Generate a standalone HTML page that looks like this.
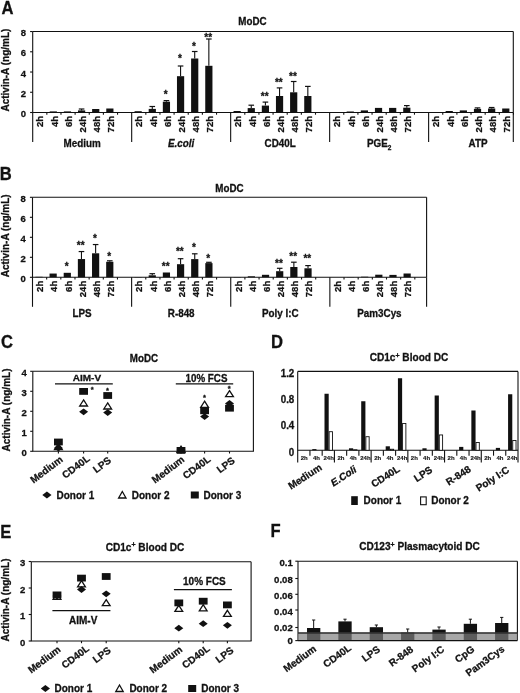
<!DOCTYPE html><html><head><meta charset="utf-8"><style>html,body{margin:0;padding:0;background:#fff;width:520px;height:693px;overflow:hidden}svg{display:block;filter:blur(0.35px)}</style></head><body><svg width="520" height="693" viewBox="0 0 520 693" font-family='"Liberation Sans", sans-serif' font-weight="bold" fill="#111">
<style>text{stroke:#111;stroke-width:0.28px;paint-order:stroke}</style>
<rect width="520" height="693" fill="#fff"/>
<text x="0" y="0" font-size="16.6" text-anchor="start" transform="translate(1.6 13.6) scale(1 1.05)">A</text>
<line x1="32.7" y1="31.5" x2="513.3" y2="31.5" stroke="#111" stroke-width="1.1"/>
<line x1="513.3" y1="31.5" x2="513.3" y2="112.5" stroke="#111" stroke-width="1.1"/>
<line x1="32.7" y1="31.5" x2="32.7" y2="142" stroke="#111" stroke-width="1.1"/>
<line x1="32.7" y1="112.5" x2="513.3" y2="112.5" stroke="#111" stroke-width="1.1"/>
<line x1="30.1" y1="112.5" x2="32.7" y2="112.5" stroke="#111" stroke-width="1.1"/>
<text x="26.1" y="117.05" font-size="9.5" text-anchor="end">0</text>
<line x1="30.1" y1="92.26" x2="32.7" y2="92.26" stroke="#111" stroke-width="1.1"/>
<text x="26.1" y="96.81" font-size="9.5" text-anchor="end">2</text>
<line x1="30.1" y1="72.02" x2="32.7" y2="72.02" stroke="#111" stroke-width="1.1"/>
<text x="26.1" y="76.57" font-size="9.5" text-anchor="end">4</text>
<line x1="30.1" y1="51.78" x2="32.7" y2="51.78" stroke="#111" stroke-width="1.1"/>
<text x="26.1" y="56.33" font-size="9.5" text-anchor="end">6</text>
<line x1="30.1" y1="31.54" x2="32.7" y2="31.54" stroke="#111" stroke-width="1.1"/>
<text x="26.1" y="36.09" font-size="9.5" text-anchor="end">8</text>
<line x1="46.84" y1="112.5" x2="46.84" y2="114.7" stroke="#111" stroke-width="1.1"/>
<line x1="60.98" y1="112.5" x2="60.98" y2="114.7" stroke="#111" stroke-width="1.1"/>
<line x1="75.12" y1="112.5" x2="75.12" y2="114.7" stroke="#111" stroke-width="1.1"/>
<line x1="89.26" y1="112.5" x2="89.26" y2="114.7" stroke="#111" stroke-width="1.1"/>
<line x1="103.4" y1="112.5" x2="103.4" y2="114.7" stroke="#111" stroke-width="1.1"/>
<line x1="117.54" y1="112.5" x2="117.54" y2="114.7" stroke="#111" stroke-width="1.1"/>
<line x1="131.68" y1="112.5" x2="131.68" y2="142" stroke="#111" stroke-width="1.1"/>
<line x1="145.82" y1="112.5" x2="145.82" y2="114.7" stroke="#111" stroke-width="1.1"/>
<line x1="159.96" y1="112.5" x2="159.96" y2="114.7" stroke="#111" stroke-width="1.1"/>
<line x1="174.1" y1="112.5" x2="174.1" y2="114.7" stroke="#111" stroke-width="1.1"/>
<line x1="188.24" y1="112.5" x2="188.24" y2="114.7" stroke="#111" stroke-width="1.1"/>
<line x1="202.38" y1="112.5" x2="202.38" y2="114.7" stroke="#111" stroke-width="1.1"/>
<line x1="216.52" y1="112.5" x2="216.52" y2="114.7" stroke="#111" stroke-width="1.1"/>
<line x1="230.66" y1="112.5" x2="230.66" y2="142" stroke="#111" stroke-width="1.1"/>
<line x1="244.8" y1="112.5" x2="244.8" y2="114.7" stroke="#111" stroke-width="1.1"/>
<line x1="258.94" y1="112.5" x2="258.94" y2="114.7" stroke="#111" stroke-width="1.1"/>
<line x1="273.08" y1="112.5" x2="273.08" y2="114.7" stroke="#111" stroke-width="1.1"/>
<line x1="287.22" y1="112.5" x2="287.22" y2="114.7" stroke="#111" stroke-width="1.1"/>
<line x1="301.36" y1="112.5" x2="301.36" y2="114.7" stroke="#111" stroke-width="1.1"/>
<line x1="315.5" y1="112.5" x2="315.5" y2="114.7" stroke="#111" stroke-width="1.1"/>
<line x1="329.64" y1="112.5" x2="329.64" y2="142" stroke="#111" stroke-width="1.1"/>
<line x1="343.78" y1="112.5" x2="343.78" y2="114.7" stroke="#111" stroke-width="1.1"/>
<line x1="357.92" y1="112.5" x2="357.92" y2="114.7" stroke="#111" stroke-width="1.1"/>
<line x1="372.06" y1="112.5" x2="372.06" y2="114.7" stroke="#111" stroke-width="1.1"/>
<line x1="386.2" y1="112.5" x2="386.2" y2="114.7" stroke="#111" stroke-width="1.1"/>
<line x1="400.34" y1="112.5" x2="400.34" y2="114.7" stroke="#111" stroke-width="1.1"/>
<line x1="414.48" y1="112.5" x2="414.48" y2="114.7" stroke="#111" stroke-width="1.1"/>
<line x1="428.62" y1="112.5" x2="428.62" y2="142" stroke="#111" stroke-width="1.1"/>
<line x1="442.76" y1="112.5" x2="442.76" y2="114.7" stroke="#111" stroke-width="1.1"/>
<line x1="456.9" y1="112.5" x2="456.9" y2="114.7" stroke="#111" stroke-width="1.1"/>
<line x1="471.04" y1="112.5" x2="471.04" y2="114.7" stroke="#111" stroke-width="1.1"/>
<line x1="485.18" y1="112.5" x2="485.18" y2="114.7" stroke="#111" stroke-width="1.1"/>
<line x1="499.32" y1="112.5" x2="499.32" y2="114.7" stroke="#111" stroke-width="1.1"/>
<line x1="513.46" y1="112.5" x2="513.46" y2="114.7" stroke="#111" stroke-width="1.1"/>
<line x1="513.3" y1="112.5" x2="513.3" y2="142" stroke="#111" stroke-width="1.1"/>
<rect x="35.57" y="112.2" width="7.2" height="0.3" fill="#111"/>
<rect x="49.71" y="111.4" width="7.2" height="1.1" fill="#111"/>
<rect x="63.85" y="111.4" width="7.2" height="1.1" fill="#111"/>
<rect x="77.99" y="110.4" width="7.2" height="2.1" fill="#111"/>
<line x1="81.59" y1="110.4" x2="81.59" y2="109" stroke="#111" stroke-width="1.1"/>
<line x1="78.79" y1="109" x2="84.39" y2="109" stroke="#111" stroke-width="1.2"/>
<rect x="92.13" y="109" width="7.2" height="3.5" fill="#111"/>
<rect x="106.27" y="108.5" width="7.2" height="4" fill="#111"/>
<text x="43.47" y="116" font-size="9.5" text-anchor="end" transform="rotate(-90 43.47 116)">2h</text>
<text x="57.61" y="116" font-size="9.5" text-anchor="end" transform="rotate(-90 57.61 116)">4h</text>
<text x="71.75" y="116" font-size="9.5" text-anchor="end" transform="rotate(-90 71.75 116)">6h</text>
<text x="85.89" y="116" font-size="9.5" text-anchor="end" transform="rotate(-90 85.89 116)">24h</text>
<text x="100.03" y="116" font-size="9.5" text-anchor="end" transform="rotate(-90 100.03 116)">48h</text>
<text x="114.17" y="116" font-size="9.5" text-anchor="end" transform="rotate(-90 114.17 116)">72h</text>
<rect x="134.55" y="111.2" width="7.2" height="1.3" fill="#111"/>
<rect x="148.69" y="108.9" width="7.2" height="3.6" fill="#111"/>
<line x1="152.29" y1="108.9" x2="152.29" y2="106.5" stroke="#111" stroke-width="1.1"/>
<line x1="149.49" y1="106.5" x2="155.09" y2="106.5" stroke="#111" stroke-width="1.2"/>
<rect x="162.83" y="101.7" width="7.2" height="10.8" fill="#111"/>
<line x1="166.43" y1="101.7" x2="166.43" y2="100.6" stroke="#111" stroke-width="1.1"/>
<line x1="163.63" y1="100.6" x2="169.23" y2="100.6" stroke="#111" stroke-width="1.2"/>
<text x="165.73" y="97.94" font-size="10" text-anchor="middle">*</text>
<rect x="176.97" y="76.2" width="7.2" height="36.3" fill="#111"/>
<line x1="180.57" y1="76.2" x2="180.57" y2="66" stroke="#111" stroke-width="1.1"/>
<line x1="177.77" y1="66" x2="183.37" y2="66" stroke="#111" stroke-width="1.2"/>
<text x="179.87" y="62.44" font-size="10" text-anchor="middle">*</text>
<rect x="191.11" y="58.5" width="7.2" height="54" fill="#111"/>
<line x1="194.71" y1="58.5" x2="194.71" y2="51.5" stroke="#111" stroke-width="1.1"/>
<line x1="191.91" y1="51.5" x2="197.51" y2="51.5" stroke="#111" stroke-width="1.2"/>
<text x="194.01" y="49.94" font-size="10" text-anchor="middle">*</text>
<rect x="205.25" y="65.8" width="7.2" height="46.7" fill="#111"/>
<line x1="208.85" y1="65.8" x2="208.85" y2="39" stroke="#111" stroke-width="1.1"/>
<line x1="206.05" y1="39" x2="211.65" y2="39" stroke="#111" stroke-width="1.2"/>
<text x="208.15" y="40.84" font-size="10" text-anchor="middle">**</text>
<text x="142.45" y="116" font-size="9.5" text-anchor="end" transform="rotate(-90 142.45 116)">2h</text>
<text x="156.59" y="116" font-size="9.5" text-anchor="end" transform="rotate(-90 156.59 116)">4h</text>
<text x="170.73" y="116" font-size="9.5" text-anchor="end" transform="rotate(-90 170.73 116)">6h</text>
<text x="184.87" y="116" font-size="9.5" text-anchor="end" transform="rotate(-90 184.87 116)">24h</text>
<text x="199.01" y="116" font-size="9.5" text-anchor="end" transform="rotate(-90 199.01 116)">48h</text>
<text x="213.15" y="116" font-size="9.5" text-anchor="end" transform="rotate(-90 213.15 116)">72h</text>
<rect x="233.53" y="111" width="7.2" height="1.5" fill="#111"/>
<rect x="247.67" y="108.1" width="7.2" height="4.4" fill="#111"/>
<line x1="251.27" y1="108.1" x2="251.27" y2="105.2" stroke="#111" stroke-width="1.1"/>
<line x1="248.47" y1="105.2" x2="254.07" y2="105.2" stroke="#111" stroke-width="1.2"/>
<rect x="261.81" y="105.6" width="7.2" height="6.9" fill="#111"/>
<line x1="265.41" y1="105.6" x2="265.41" y2="102.1" stroke="#111" stroke-width="1.1"/>
<line x1="262.61" y1="102.1" x2="268.21" y2="102.1" stroke="#111" stroke-width="1.2"/>
<text x="264.71" y="99.64" font-size="10" text-anchor="middle">**</text>
<rect x="275.95" y="96" width="7.2" height="16.5" fill="#111"/>
<line x1="279.55" y1="96" x2="279.55" y2="87.9" stroke="#111" stroke-width="1.1"/>
<line x1="276.75" y1="87.9" x2="282.35" y2="87.9" stroke="#111" stroke-width="1.2"/>
<text x="278.85" y="86.04" font-size="10" text-anchor="middle">**</text>
<rect x="290.09" y="92.3" width="7.2" height="20.2" fill="#111"/>
<line x1="293.69" y1="92.3" x2="293.69" y2="81.5" stroke="#111" stroke-width="1.1"/>
<line x1="290.89" y1="81.5" x2="296.49" y2="81.5" stroke="#111" stroke-width="1.2"/>
<text x="292.99" y="79.94" font-size="10" text-anchor="middle">**</text>
<rect x="304.23" y="96" width="7.2" height="16.5" fill="#111"/>
<line x1="307.83" y1="96" x2="307.83" y2="86.4" stroke="#111" stroke-width="1.1"/>
<line x1="305.03" y1="86.4" x2="310.63" y2="86.4" stroke="#111" stroke-width="1.2"/>
<text x="241.43" y="116" font-size="9.5" text-anchor="end" transform="rotate(-90 241.43 116)">2h</text>
<text x="255.57" y="116" font-size="9.5" text-anchor="end" transform="rotate(-90 255.57 116)">4h</text>
<text x="269.71" y="116" font-size="9.5" text-anchor="end" transform="rotate(-90 269.71 116)">6h</text>
<text x="283.85" y="116" font-size="9.5" text-anchor="end" transform="rotate(-90 283.85 116)">24h</text>
<text x="297.99" y="116" font-size="9.5" text-anchor="end" transform="rotate(-90 297.99 116)">48h</text>
<text x="312.13" y="116" font-size="9.5" text-anchor="end" transform="rotate(-90 312.13 116)">72h</text>
<rect x="332.51" y="112" width="7.2" height="0.5" fill="#111"/>
<rect x="346.65" y="111.5" width="7.2" height="1" fill="#111"/>
<rect x="360.79" y="110.4" width="7.2" height="2.1" fill="#111"/>
<rect x="374.93" y="107.9" width="7.2" height="4.6" fill="#111"/>
<rect x="389.07" y="107.9" width="7.2" height="4.6" fill="#111"/>
<rect x="403.21" y="107.7" width="7.2" height="4.8" fill="#111"/>
<line x1="406.81" y1="107.7" x2="406.81" y2="105.6" stroke="#111" stroke-width="1.1"/>
<line x1="404.01" y1="105.6" x2="409.61" y2="105.6" stroke="#111" stroke-width="1.2"/>
<text x="340.41" y="116" font-size="9.5" text-anchor="end" transform="rotate(-90 340.41 116)">2h</text>
<text x="354.55" y="116" font-size="9.5" text-anchor="end" transform="rotate(-90 354.55 116)">4h</text>
<text x="368.69" y="116" font-size="9.5" text-anchor="end" transform="rotate(-90 368.69 116)">6h</text>
<text x="382.83" y="116" font-size="9.5" text-anchor="end" transform="rotate(-90 382.83 116)">24h</text>
<text x="396.97" y="116" font-size="9.5" text-anchor="end" transform="rotate(-90 396.97 116)">48h</text>
<text x="411.11" y="116" font-size="9.5" text-anchor="end" transform="rotate(-90 411.11 116)">72h</text>
<rect x="431.49" y="112" width="7.2" height="0.5" fill="#111"/>
<rect x="445.63" y="111" width="7.2" height="1.5" fill="#111"/>
<rect x="459.77" y="110.4" width="7.2" height="2.1" fill="#111"/>
<rect x="473.91" y="108.9" width="7.2" height="3.6" fill="#111"/>
<line x1="477.51" y1="108.9" x2="477.51" y2="107.9" stroke="#111" stroke-width="1.1"/>
<line x1="474.71" y1="107.9" x2="480.31" y2="107.9" stroke="#111" stroke-width="1.2"/>
<rect x="488.05" y="108.5" width="7.2" height="4" fill="#111"/>
<line x1="491.65" y1="108.5" x2="491.65" y2="107.5" stroke="#111" stroke-width="1.1"/>
<line x1="488.85" y1="107.5" x2="494.45" y2="107.5" stroke="#111" stroke-width="1.2"/>
<rect x="502.19" y="108.5" width="7.2" height="4" fill="#111"/>
<text x="439.39" y="116" font-size="9.5" text-anchor="end" transform="rotate(-90 439.39 116)">2h</text>
<text x="453.53" y="116" font-size="9.5" text-anchor="end" transform="rotate(-90 453.53 116)">4h</text>
<text x="467.67" y="116" font-size="9.5" text-anchor="end" transform="rotate(-90 467.67 116)">6h</text>
<text x="481.81" y="116" font-size="9.5" text-anchor="end" transform="rotate(-90 481.81 116)">24h</text>
<text x="495.95" y="116" font-size="9.5" text-anchor="end" transform="rotate(-90 495.95 116)">48h</text>
<text x="510.09" y="116" font-size="9.5" text-anchor="end" transform="rotate(-90 510.09 116)">72h</text>
<text x="0" y="0" font-size="9.85" text-anchor="middle" transform="translate(82.19 147.4) scale(1 1.08)">Medium</text>
<text x="0" y="0" font-size="9.85" text-anchor="middle" font-style="italic" transform="translate(181.17 147.4) scale(1 1.08)"><tspan font-style="italic">E.coli</tspan></text>
<text x="0" y="0" font-size="9.85" text-anchor="middle" transform="translate(280.15 147.4) scale(1 1.08)">CD40L</text>
<text x="0" y="0" font-size="9.85" text-anchor="middle" transform="translate(379.13 147.4) scale(1 1.08)">PGE<tspan font-size="6.5" dy="2.5">2</tspan></text>
<text x="0" y="0" font-size="9.85" text-anchor="middle" transform="translate(478.11 147.4) scale(1 1.08)">ATP</text>
<text x="0" y="0" font-size="9.8" text-anchor="middle" transform="translate(252.4 24.8) scale(1 1.08)">MoDC</text>
<text x="9.3" y="70.1" font-size="10" text-anchor="middle" transform="rotate(-90 9.3 70.1)">Activin-A (ng/mL)</text>
<text x="0" y="0" font-size="16.6" text-anchor="start" transform="translate(-0.2 179.5) scale(1 1.05)">B</text>
<line x1="32.5" y1="197.3" x2="426.6" y2="197.3" stroke="#111" stroke-width="1.1"/>
<line x1="426.6" y1="197.3" x2="426.6" y2="277.3" stroke="#111" stroke-width="1.1"/>
<line x1="32.5" y1="197.3" x2="32.5" y2="306.8" stroke="#111" stroke-width="1.1"/>
<line x1="32.5" y1="277.3" x2="426.6" y2="277.3" stroke="#111" stroke-width="1.1"/>
<line x1="29.9" y1="277.3" x2="32.5" y2="277.3" stroke="#111" stroke-width="1.1"/>
<text x="25.9" y="281.85" font-size="9.5" text-anchor="end">0</text>
<line x1="29.9" y1="257.3" x2="32.5" y2="257.3" stroke="#111" stroke-width="1.1"/>
<text x="25.9" y="261.85" font-size="9.5" text-anchor="end">2</text>
<line x1="29.9" y1="237.3" x2="32.5" y2="237.3" stroke="#111" stroke-width="1.1"/>
<text x="25.9" y="241.85" font-size="9.5" text-anchor="end">4</text>
<line x1="29.9" y1="217.3" x2="32.5" y2="217.3" stroke="#111" stroke-width="1.1"/>
<text x="25.9" y="221.85" font-size="9.5" text-anchor="end">6</text>
<line x1="29.9" y1="197.3" x2="32.5" y2="197.3" stroke="#111" stroke-width="1.1"/>
<text x="25.9" y="201.85" font-size="9.5" text-anchor="end">8</text>
<line x1="46.66" y1="277.3" x2="46.66" y2="279.5" stroke="#111" stroke-width="1.1"/>
<line x1="60.82" y1="277.3" x2="60.82" y2="279.5" stroke="#111" stroke-width="1.1"/>
<line x1="74.98" y1="277.3" x2="74.98" y2="279.5" stroke="#111" stroke-width="1.1"/>
<line x1="89.14" y1="277.3" x2="89.14" y2="279.5" stroke="#111" stroke-width="1.1"/>
<line x1="103.3" y1="277.3" x2="103.3" y2="279.5" stroke="#111" stroke-width="1.1"/>
<line x1="117.46" y1="277.3" x2="117.46" y2="279.5" stroke="#111" stroke-width="1.1"/>
<line x1="131.62" y1="277.3" x2="131.62" y2="306.8" stroke="#111" stroke-width="1.1"/>
<line x1="145.78" y1="277.3" x2="145.78" y2="279.5" stroke="#111" stroke-width="1.1"/>
<line x1="159.94" y1="277.3" x2="159.94" y2="279.5" stroke="#111" stroke-width="1.1"/>
<line x1="174.1" y1="277.3" x2="174.1" y2="279.5" stroke="#111" stroke-width="1.1"/>
<line x1="188.26" y1="277.3" x2="188.26" y2="279.5" stroke="#111" stroke-width="1.1"/>
<line x1="202.42" y1="277.3" x2="202.42" y2="279.5" stroke="#111" stroke-width="1.1"/>
<line x1="216.58" y1="277.3" x2="216.58" y2="279.5" stroke="#111" stroke-width="1.1"/>
<line x1="230.74" y1="277.3" x2="230.74" y2="306.8" stroke="#111" stroke-width="1.1"/>
<line x1="244.9" y1="277.3" x2="244.9" y2="279.5" stroke="#111" stroke-width="1.1"/>
<line x1="259.06" y1="277.3" x2="259.06" y2="279.5" stroke="#111" stroke-width="1.1"/>
<line x1="273.22" y1="277.3" x2="273.22" y2="279.5" stroke="#111" stroke-width="1.1"/>
<line x1="287.38" y1="277.3" x2="287.38" y2="279.5" stroke="#111" stroke-width="1.1"/>
<line x1="301.54" y1="277.3" x2="301.54" y2="279.5" stroke="#111" stroke-width="1.1"/>
<line x1="315.7" y1="277.3" x2="315.7" y2="279.5" stroke="#111" stroke-width="1.1"/>
<line x1="329.86" y1="277.3" x2="329.86" y2="306.8" stroke="#111" stroke-width="1.1"/>
<line x1="344.02" y1="277.3" x2="344.02" y2="279.5" stroke="#111" stroke-width="1.1"/>
<line x1="358.18" y1="277.3" x2="358.18" y2="279.5" stroke="#111" stroke-width="1.1"/>
<line x1="372.34" y1="277.3" x2="372.34" y2="279.5" stroke="#111" stroke-width="1.1"/>
<line x1="386.5" y1="277.3" x2="386.5" y2="279.5" stroke="#111" stroke-width="1.1"/>
<line x1="400.66" y1="277.3" x2="400.66" y2="279.5" stroke="#111" stroke-width="1.1"/>
<line x1="414.82" y1="277.3" x2="414.82" y2="279.5" stroke="#111" stroke-width="1.1"/>
<line x1="426.6" y1="277.3" x2="426.6" y2="306.8" stroke="#111" stroke-width="1.1"/>
<rect x="35.38" y="276.8" width="7.2" height="0.5" fill="#111"/>
<rect x="49.54" y="273.55" width="7.2" height="3.75" fill="#111"/>
<rect x="63.7" y="272.8" width="7.2" height="4.5" fill="#111"/>
<text x="66.6" y="269.89" font-size="10" text-anchor="middle">*</text>
<rect x="77.86" y="259.05" width="7.2" height="18.25" fill="#111"/>
<line x1="81.46" y1="259.05" x2="81.46" y2="251.55" stroke="#111" stroke-width="1.1"/>
<line x1="78.66" y1="251.55" x2="84.26" y2="251.55" stroke="#111" stroke-width="1.2"/>
<text x="80.76" y="249.14" font-size="10" text-anchor="middle">**</text>
<rect x="92.02" y="253.3" width="7.2" height="24" fill="#111"/>
<line x1="95.62" y1="253.3" x2="95.62" y2="244.55" stroke="#111" stroke-width="1.1"/>
<line x1="92.82" y1="244.55" x2="98.42" y2="244.55" stroke="#111" stroke-width="1.2"/>
<text x="94.92" y="242.14" font-size="10" text-anchor="middle">*</text>
<rect x="106.18" y="261.8" width="7.2" height="15.5" fill="#111"/>
<line x1="109.78" y1="261.8" x2="109.78" y2="260.8" stroke="#111" stroke-width="1.1"/>
<line x1="106.98" y1="260.8" x2="112.58" y2="260.8" stroke="#111" stroke-width="1.2"/>
<text x="109.08" y="259.64" font-size="10" text-anchor="middle">*</text>
<text x="43.28" y="280.8" font-size="9.5" text-anchor="end" transform="rotate(-90 43.28 280.8)">2h</text>
<text x="57.44" y="280.8" font-size="9.5" text-anchor="end" transform="rotate(-90 57.44 280.8)">4h</text>
<text x="71.6" y="280.8" font-size="9.5" text-anchor="end" transform="rotate(-90 71.6 280.8)">6h</text>
<text x="85.76" y="280.8" font-size="9.5" text-anchor="end" transform="rotate(-90 85.76 280.8)">24h</text>
<text x="99.92" y="280.8" font-size="9.5" text-anchor="end" transform="rotate(-90 99.92 280.8)">48h</text>
<text x="114.08" y="280.8" font-size="9.5" text-anchor="end" transform="rotate(-90 114.08 280.8)">72h</text>
<rect x="134.5" y="277" width="7.2" height="0.3" fill="#111"/>
<rect x="148.66" y="275.3" width="7.2" height="2" fill="#111"/>
<line x1="152.26" y1="275.3" x2="152.26" y2="273.7" stroke="#111" stroke-width="1.1"/>
<line x1="149.46" y1="273.7" x2="155.06" y2="273.7" stroke="#111" stroke-width="1.2"/>
<rect x="162.82" y="272.5" width="7.2" height="4.8" fill="#111"/>
<text x="165.72" y="270.14" font-size="10" text-anchor="middle">**</text>
<rect x="176.98" y="264.2" width="7.2" height="13.1" fill="#111"/>
<line x1="180.58" y1="264.2" x2="180.58" y2="258.7" stroke="#111" stroke-width="1.1"/>
<line x1="177.78" y1="258.7" x2="183.38" y2="258.7" stroke="#111" stroke-width="1.2"/>
<text x="179.88" y="255.14" font-size="10" text-anchor="middle">**</text>
<rect x="191.14" y="259.1" width="7.2" height="18.2" fill="#111"/>
<line x1="194.74" y1="259.1" x2="194.74" y2="253.8" stroke="#111" stroke-width="1.1"/>
<line x1="191.94" y1="253.8" x2="197.54" y2="253.8" stroke="#111" stroke-width="1.2"/>
<text x="194.04" y="251.14" font-size="10" text-anchor="middle">*</text>
<rect x="205.3" y="263.1" width="7.2" height="14.2" fill="#111"/>
<line x1="208.9" y1="263.1" x2="208.9" y2="262.3" stroke="#111" stroke-width="1.1"/>
<line x1="206.1" y1="262.3" x2="211.7" y2="262.3" stroke="#111" stroke-width="1.2"/>
<text x="208.2" y="262.04" font-size="10" text-anchor="middle">*</text>
<text x="142.4" y="280.8" font-size="9.5" text-anchor="end" transform="rotate(-90 142.4 280.8)">2h</text>
<text x="156.56" y="280.8" font-size="9.5" text-anchor="end" transform="rotate(-90 156.56 280.8)">4h</text>
<text x="170.72" y="280.8" font-size="9.5" text-anchor="end" transform="rotate(-90 170.72 280.8)">6h</text>
<text x="184.88" y="280.8" font-size="9.5" text-anchor="end" transform="rotate(-90 184.88 280.8)">24h</text>
<text x="199.04" y="280.8" font-size="9.5" text-anchor="end" transform="rotate(-90 199.04 280.8)">48h</text>
<text x="213.2" y="280.8" font-size="9.5" text-anchor="end" transform="rotate(-90 213.2 280.8)">72h</text>
<rect x="233.62" y="277" width="7.2" height="0.3" fill="#111"/>
<rect x="247.78" y="276.3" width="7.2" height="1" fill="#111"/>
<rect x="261.94" y="274.8" width="7.2" height="2.5" fill="#111"/>
<rect x="276.1" y="271.2" width="7.2" height="6.1" fill="#111"/>
<line x1="279.7" y1="271.2" x2="279.7" y2="268.3" stroke="#111" stroke-width="1.1"/>
<line x1="276.9" y1="268.3" x2="282.5" y2="268.3" stroke="#111" stroke-width="1.2"/>
<text x="279" y="266.64" font-size="10" text-anchor="middle">**</text>
<rect x="290.26" y="267" width="7.2" height="10.3" fill="#111"/>
<line x1="293.86" y1="267" x2="293.86" y2="262.2" stroke="#111" stroke-width="1.1"/>
<line x1="291.06" y1="262.2" x2="296.66" y2="262.2" stroke="#111" stroke-width="1.2"/>
<text x="293.16" y="259.64" font-size="10" text-anchor="middle">**</text>
<rect x="304.42" y="268.3" width="7.2" height="9" fill="#111"/>
<line x1="308.02" y1="268.3" x2="308.02" y2="265.6" stroke="#111" stroke-width="1.1"/>
<line x1="305.22" y1="265.6" x2="310.82" y2="265.6" stroke="#111" stroke-width="1.2"/>
<text x="307.32" y="262.04" font-size="10" text-anchor="middle">**</text>
<text x="241.52" y="280.8" font-size="9.5" text-anchor="end" transform="rotate(-90 241.52 280.8)">2h</text>
<text x="255.68" y="280.8" font-size="9.5" text-anchor="end" transform="rotate(-90 255.68 280.8)">4h</text>
<text x="269.84" y="280.8" font-size="9.5" text-anchor="end" transform="rotate(-90 269.84 280.8)">6h</text>
<text x="284" y="280.8" font-size="9.5" text-anchor="end" transform="rotate(-90 284 280.8)">24h</text>
<text x="298.16" y="280.8" font-size="9.5" text-anchor="end" transform="rotate(-90 298.16 280.8)">48h</text>
<text x="312.32" y="280.8" font-size="9.5" text-anchor="end" transform="rotate(-90 312.32 280.8)">72h</text>
<rect x="346.9" y="277.1" width="7.2" height="0.2" fill="#111"/>
<rect x="361.06" y="276.7" width="7.2" height="0.6" fill="#111"/>
<rect x="375.22" y="274.7" width="7.2" height="2.6" fill="#111"/>
<rect x="389.38" y="274.9" width="7.2" height="2.4" fill="#111"/>
<rect x="403.54" y="273.5" width="7.2" height="3.8" fill="#111"/>
<text x="340.64" y="280.8" font-size="9.5" text-anchor="end" transform="rotate(-90 340.64 280.8)">2h</text>
<text x="354.8" y="280.8" font-size="9.5" text-anchor="end" transform="rotate(-90 354.8 280.8)">4h</text>
<text x="368.96" y="280.8" font-size="9.5" text-anchor="end" transform="rotate(-90 368.96 280.8)">6h</text>
<text x="383.12" y="280.8" font-size="9.5" text-anchor="end" transform="rotate(-90 383.12 280.8)">24h</text>
<text x="397.28" y="280.8" font-size="9.5" text-anchor="end" transform="rotate(-90 397.28 280.8)">48h</text>
<text x="411.44" y="280.8" font-size="9.5" text-anchor="end" transform="rotate(-90 411.44 280.8)">72h</text>
<text x="0" y="0" font-size="9.85" text-anchor="middle" transform="translate(82.06 316.6) scale(1 1.08)">LPS</text>
<text x="0" y="0" font-size="9.85" text-anchor="middle" transform="translate(181.18 316.6) scale(1 1.08)">R-848</text>
<text x="0" y="0" font-size="9.85" text-anchor="middle" transform="translate(280.3 316.6) scale(1 1.08)">Poly I:C</text>
<text x="0" y="0" font-size="9.85" text-anchor="middle" transform="translate(379.42 316.6) scale(1 1.08)">Pam3Cys</text>
<text x="0" y="0" font-size="9.8" text-anchor="middle" transform="translate(229.4 192.1) scale(1 1.08)">MoDC</text>
<text x="9.1" y="235.8" font-size="10" text-anchor="middle" transform="rotate(-90 9.1 235.8)">Activin-A (ng/mL)</text>
<text x="0" y="0" font-size="16.6" text-anchor="start" transform="translate(0.9 347.8) scale(1 1.05)">C</text>
<line x1="32.8" y1="371.3" x2="253.4" y2="371.3" stroke="#111" stroke-width="1.1"/>
<line x1="253.4" y1="371.3" x2="253.4" y2="451.3" stroke="#111" stroke-width="1.1"/>
<line x1="32.8" y1="371.3" x2="32.8" y2="451.3" stroke="#111" stroke-width="1.1"/>
<line x1="32.3" y1="451.3" x2="253.9" y2="451.3" stroke="#111" stroke-width="1.1"/>
<line x1="30.2" y1="451.3" x2="32.8" y2="451.3" stroke="#111" stroke-width="1.1"/>
<text x="26.8" y="455.5" font-size="9.5" text-anchor="end">0</text>
<line x1="30.2" y1="431.3" x2="32.8" y2="431.3" stroke="#111" stroke-width="1.1"/>
<text x="26.8" y="435.5" font-size="9.5" text-anchor="end">1</text>
<line x1="30.2" y1="411.3" x2="32.8" y2="411.3" stroke="#111" stroke-width="1.1"/>
<text x="26.8" y="415.5" font-size="9.5" text-anchor="end">2</text>
<line x1="30.2" y1="391.3" x2="32.8" y2="391.3" stroke="#111" stroke-width="1.1"/>
<text x="26.8" y="395.5" font-size="9.5" text-anchor="end">3</text>
<line x1="30.2" y1="371.3" x2="32.8" y2="371.3" stroke="#111" stroke-width="1.1"/>
<text x="26.8" y="375.5" font-size="9.5" text-anchor="end">4</text>
<line x1="58.4" y1="451.3" x2="58.4" y2="453.5" stroke="#111" stroke-width="1.1"/>
<line x1="83.6" y1="451.3" x2="83.6" y2="453.5" stroke="#111" stroke-width="1.1"/>
<line x1="107.7" y1="451.3" x2="107.7" y2="453.5" stroke="#111" stroke-width="1.1"/>
<line x1="181" y1="451.3" x2="181" y2="453.5" stroke="#111" stroke-width="1.1"/>
<line x1="204.6" y1="451.3" x2="204.6" y2="453.5" stroke="#111" stroke-width="1.1"/>
<line x1="229.5" y1="451.3" x2="229.5" y2="453.5" stroke="#111" stroke-width="1.1"/>
<text x="63.6" y="460.92" font-size="10.0" text-anchor="end" transform="rotate(-37 63.6 460.92)" class="rl">Medium</text>
<text x="90.6" y="459.92" font-size="10.0" text-anchor="end" transform="rotate(-37 90.6 459.92)" class="rl">CD40L</text>
<text x="111.8" y="461.72" font-size="10.0" text-anchor="end" transform="rotate(-37 111.8 461.72)" class="rl">LPS</text>
<text x="185.2" y="460.92" font-size="10.0" text-anchor="end" transform="rotate(-37 185.2 460.92)" class="rl">Medium</text>
<text x="211.4" y="460.52" font-size="10.0" text-anchor="end" transform="rotate(-37 211.4 460.52)" class="rl">CD40L</text>
<text x="235.6" y="461.92" font-size="10.0" text-anchor="end" transform="rotate(-37 235.6 461.92)" class="rl">LPS</text>
<path d="M58.4 443.5L62.3 449.6L54.5 449.6Z" fill="#fff" stroke="#111" stroke-width="1.3" stroke-linejoin="miter"/>
<path d="M58.4 444.6L62.9 448L58.4 451.4L53.9 448Z" fill="#111"/>
<rect x="54" y="438.6" width="8.8" height="6.8" fill="#111"/>
<path d="M83.6 399.9L87.5 406L79.7 406Z" fill="#fff" stroke="#111" stroke-width="1.3" stroke-linejoin="miter"/>
<path d="M83.6 408.4L88.1 411.8L83.6 415.2L79.1 411.8Z" fill="#111"/>
<rect x="79.2" y="388" width="8.8" height="6.8" fill="#111"/>
<text x="92.2" y="392.46" font-size="7.6" text-anchor="middle">*</text>
<path d="M107.7 402.9L111.6 409L103.8 409Z" fill="#fff" stroke="#111" stroke-width="1.3" stroke-linejoin="miter"/>
<path d="M107.7 409.2L112.2 412.6L107.7 416L103.2 412.6Z" fill="#111"/>
<rect x="103.3" y="392.1" width="8.8" height="6.8" fill="#111"/>
<text x="107.5" y="392.76" font-size="7.6" text-anchor="middle">*</text>
<path d="M181 446.2L184.9 452.3L177.1 452.3Z" fill="#fff" stroke="#111" stroke-width="1.3" stroke-linejoin="miter"/>
<path d="M181 446.6L185.5 450L181 453.4L176.5 450Z" fill="#111"/>
<rect x="176.6" y="447" width="8.8" height="6.8" fill="#111"/>
<path d="M204.6 401.2L208.5 407.3L200.7 407.3Z" fill="#fff" stroke="#111" stroke-width="1.3" stroke-linejoin="miter"/>
<path d="M204.6 413.2L209.1 416.6L204.6 420L200.1 416.6Z" fill="#111"/>
<rect x="200.2" y="407.4" width="8.8" height="6.8" fill="#111"/>
<text x="204.4" y="399.66" font-size="7.6" text-anchor="middle">*</text>
<path d="M229.5 390.6L233.4 396.7L225.6 396.7Z" fill="#fff" stroke="#111" stroke-width="1.3" stroke-linejoin="miter"/>
<path d="M229.5 400.1L234 403.5L229.5 406.9L225 403.5Z" fill="#111"/>
<rect x="225.1" y="404.8" width="8.8" height="6.8" fill="#111"/>
<text x="229.3" y="391.26" font-size="7.6" text-anchor="middle">*</text>
<line x1="55" y1="383.8" x2="112.8" y2="383.8" stroke="#111" stroke-width="1.3"/>
<text x="0" y="0" font-size="9.2" text-anchor="middle" transform="translate(86.9 381.4) scale(1 1.08)" textLength="28.3" lengthAdjust="spacingAndGlyphs">AIM-V</text>
<line x1="175.8" y1="383.8" x2="233.2" y2="383.8" stroke="#111" stroke-width="1.3"/>
<text x="0" y="0" font-size="9.8" text-anchor="middle" transform="translate(206.5 381.6) scale(1 1.08)">10% FCS</text>
<text x="0" y="0" font-size="9.8" text-anchor="middle" transform="translate(144 361.5) scale(1 1.08)">MoDC</text>
<text x="10.1" y="410" font-size="10" text-anchor="middle" transform="rotate(-90 10.1 410)">Activin-A (ng/mL)</text>
<path d="M46.9 491.4L51.5 495L46.9 498.6L42.3 495Z" fill="#111"/>
<text x="0" y="0" font-size="10" text-anchor="start" transform="translate(56.5 498.6) scale(1 1.08)">Donor 1</text>
<path d="M122.3 491.5L126 498L118.6 498Z" fill="#fff" stroke="#111" stroke-width="1.3" stroke-linejoin="miter"/>
<text x="0" y="0" font-size="10" text-anchor="start" transform="translate(131.8 498.6) scale(1 1.08)">Donor 2</text>
<rect x="190.8" y="491.5" width="8" height="7" fill="#111"/>
<text x="0" y="0" font-size="10" text-anchor="start" transform="translate(203.5 498.6) scale(1 1.08)">Donor 3</text>
<text x="0" y="0" font-size="16.6" text-anchor="start" transform="translate(0.2 537.5) scale(1 1.05)">E</text>
<line x1="31.3" y1="561.8" x2="251.1" y2="561.8" stroke="#111" stroke-width="1.1"/>
<line x1="251.1" y1="561.8" x2="251.1" y2="641" stroke="#111" stroke-width="1.1"/>
<line x1="31.3" y1="561.8" x2="31.3" y2="641" stroke="#111" stroke-width="1.1"/>
<line x1="30.8" y1="641" x2="251.6" y2="641" stroke="#111" stroke-width="1.1"/>
<line x1="28.7" y1="641" x2="31.3" y2="641" stroke="#111" stroke-width="1.1"/>
<text x="25.3" y="645.7" font-size="9.5" text-anchor="end">0</text>
<line x1="28.7" y1="614.5" x2="31.3" y2="614.5" stroke="#111" stroke-width="1.1"/>
<text x="25.3" y="619.2" font-size="9.5" text-anchor="end">1</text>
<line x1="28.7" y1="588" x2="31.3" y2="588" stroke="#111" stroke-width="1.1"/>
<text x="25.3" y="592.7" font-size="9.5" text-anchor="end">2</text>
<line x1="28.7" y1="561.5" x2="31.3" y2="561.5" stroke="#111" stroke-width="1.1"/>
<text x="25.3" y="566.2" font-size="9.5" text-anchor="end">3</text>
<line x1="57" y1="641" x2="57" y2="643.2" stroke="#111" stroke-width="1.1"/>
<line x1="81.5" y1="641" x2="81.5" y2="643.2" stroke="#111" stroke-width="1.1"/>
<line x1="106.2" y1="641" x2="106.2" y2="643.2" stroke="#111" stroke-width="1.1"/>
<line x1="178.8" y1="641" x2="178.8" y2="643.2" stroke="#111" stroke-width="1.1"/>
<line x1="203.2" y1="641" x2="203.2" y2="643.2" stroke="#111" stroke-width="1.1"/>
<line x1="227.4" y1="641" x2="227.4" y2="643.2" stroke="#111" stroke-width="1.1"/>
<text x="61.4" y="650.92" font-size="10.0" text-anchor="end" transform="rotate(-37 61.4 650.92)" class="rl">Medium</text>
<text x="90" y="649.92" font-size="10.0" text-anchor="end" transform="rotate(-37 90 649.92)" class="rl">CD40L</text>
<text x="111.6" y="651.72" font-size="10.0" text-anchor="end" transform="rotate(-37 111.6 651.72)" class="rl">LPS</text>
<text x="183" y="650.92" font-size="10.0" text-anchor="end" transform="rotate(-37 183 650.92)" class="rl">Medium</text>
<text x="210.6" y="649.92" font-size="10.0" text-anchor="end" transform="rotate(-37 210.6 649.92)" class="rl">CD40L</text>
<text x="234.4" y="651.72" font-size="10.0" text-anchor="end" transform="rotate(-37 234.4 651.72)" class="rl">LPS</text>
<path d="M57 593.3L60.9 599.4L53.1 599.4Z" fill="#fff" stroke="#111" stroke-width="1.3" stroke-linejoin="miter"/>
<path d="M57 592.6L61.5 596L57 599.4L52.5 596Z" fill="#111"/>
<rect x="52.6" y="591.5" width="8.8" height="6.8" fill="#111"/>
<path d="M81.5 580.7L85.4 586.8L77.6 586.8Z" fill="#fff" stroke="#111" stroke-width="1.3" stroke-linejoin="miter"/>
<path d="M81.5 586.1L86 589.5L81.5 592.9L77 589.5Z" fill="#111"/>
<rect x="77.1" y="574.7" width="8.8" height="6.8" fill="#111"/>
<path d="M106.2 599.6L110.1 605.7L102.3 605.7Z" fill="#fff" stroke="#111" stroke-width="1.3" stroke-linejoin="miter"/>
<path d="M106.2 590.4L110.7 593.8L106.2 597.2L101.7 593.8Z" fill="#111"/>
<rect x="101.8" y="573.1" width="8.8" height="6.8" fill="#111"/>
<path d="M178.8 605.3L182.7 611.4L174.9 611.4Z" fill="#fff" stroke="#111" stroke-width="1.3" stroke-linejoin="miter"/>
<path d="M178.8 624.8L183.3 628.2L178.8 631.6L174.3 628.2Z" fill="#111"/>
<rect x="174.4" y="599.5" width="8.8" height="6.8" fill="#111"/>
<path d="M203.2 604.7L207.1 610.8L199.3 610.8Z" fill="#fff" stroke="#111" stroke-width="1.3" stroke-linejoin="miter"/>
<path d="M203.2 620.3L207.7 623.7L203.2 627.1L198.7 623.7Z" fill="#111"/>
<rect x="198.8" y="597.8" width="8.8" height="6.8" fill="#111"/>
<path d="M227.4 610.3L231.3 616.4L223.5 616.4Z" fill="#fff" stroke="#111" stroke-width="1.3" stroke-linejoin="miter"/>
<path d="M227.4 621.9L231.9 625.3L227.4 628.7L222.9 625.3Z" fill="#111"/>
<rect x="223" y="601.5" width="8.8" height="6.8" fill="#111"/>
<line x1="52.4" y1="610.7" x2="110.4" y2="610.7" stroke="#111" stroke-width="1.3"/>
<text x="0" y="0" font-size="10" text-anchor="middle" transform="translate(83.2 624.2) scale(1 1.08)">AIM-V</text>
<line x1="173.9" y1="589.7" x2="231.9" y2="589.7" stroke="#111" stroke-width="1.3"/>
<text x="0" y="0" font-size="10" text-anchor="middle" transform="translate(204.4 584.9) scale(1 1.08)">10% FCS</text>
<text x="0" y="0" font-size="10.1" text-anchor="middle" transform="translate(145 550.8) scale(1 1.08)">CD1c<tspan font-size="7" dy="-3.3">+</tspan><tspan dy="3.3"> Blood DC</tspan></text>
<text x="9.4" y="600" font-size="10" text-anchor="middle" transform="rotate(-90 9.4 600)">Activin-A (ng/mL)</text>
<path d="M45.4 684.9L50 688.5L45.4 692.1L40.8 688.5Z" fill="#111"/>
<text x="0" y="0" font-size="10" text-anchor="start" transform="translate(54.5 692.1) scale(1 1.08)">Donor 1</text>
<path d="M119.5 685L123.2 691.5L115.8 691.5Z" fill="#fff" stroke="#111" stroke-width="1.3" stroke-linejoin="miter"/>
<text x="0" y="0" font-size="10" text-anchor="start" transform="translate(129.4 692.1) scale(1 1.08)">Donor 2</text>
<rect x="188.2" y="685" width="8" height="7" fill="#111"/>
<text x="0" y="0" font-size="10" text-anchor="start" transform="translate(201.3 692.1) scale(1 1.08)">Donor 3</text>
<text x="0" y="0" font-size="16.6" text-anchor="start" transform="translate(271 347.6) scale(1 1.05)">D</text>
<line x1="297.7" y1="371.4" x2="518" y2="371.4" stroke="#111" stroke-width="1.1"/>
<line x1="518" y1="371.4" x2="518" y2="462.4" stroke="#111" stroke-width="1.1"/>
<line x1="297.7" y1="371.4" x2="297.7" y2="462.4" stroke="#111" stroke-width="1.1"/>
<line x1="297.7" y1="450.3" x2="518" y2="450.3" stroke="#111" stroke-width="1.1"/>
<text x="0" y="0" font-size="9.8" text-anchor="end" transform="translate(294.3 455.6) scale(1 1.02)">0</text>
<text x="0" y="0" font-size="9.8" text-anchor="end" transform="translate(294.3 429.15) scale(1 1.02)">0.4</text>
<text x="0" y="0" font-size="9.8" text-anchor="end" transform="translate(294.3 402.7) scale(1 1.02)">0.8</text>
<text x="0" y="0" font-size="9.8" text-anchor="end" transform="translate(294.3 376.9) scale(1 1.02)">1.2</text>
<line x1="309.94" y1="450.3" x2="309.94" y2="455.7" stroke="#111" stroke-width="1.1"/>
<line x1="322.18" y1="450.3" x2="322.18" y2="455.7" stroke="#111" stroke-width="1.1"/>
<text x="304.22" y="460.1" font-size="6.0" text-anchor="middle" style="stroke-width:0.12px">2h</text>
<text x="316.46" y="460.1" font-size="6.0" text-anchor="middle" style="stroke-width:0.12px">4h</text>
<text x="328.7" y="460.1" font-size="6.0" text-anchor="middle" style="stroke-width:0.12px">24h</text>
<line x1="334.42" y1="450.3" x2="334.42" y2="462.4" stroke="#111" stroke-width="1.1"/>
<line x1="346.66" y1="450.3" x2="346.66" y2="455.7" stroke="#111" stroke-width="1.1"/>
<line x1="358.89" y1="450.3" x2="358.89" y2="455.7" stroke="#111" stroke-width="1.1"/>
<text x="340.94" y="460.1" font-size="6.0" text-anchor="middle" style="stroke-width:0.12px">2h</text>
<text x="353.17" y="460.1" font-size="6.0" text-anchor="middle" style="stroke-width:0.12px">4h</text>
<text x="365.41" y="460.1" font-size="6.0" text-anchor="middle" style="stroke-width:0.12px">24h</text>
<line x1="371.13" y1="450.3" x2="371.13" y2="462.4" stroke="#111" stroke-width="1.1"/>
<line x1="383.37" y1="450.3" x2="383.37" y2="455.7" stroke="#111" stroke-width="1.1"/>
<line x1="395.61" y1="450.3" x2="395.61" y2="455.7" stroke="#111" stroke-width="1.1"/>
<text x="377.65" y="460.1" font-size="6.0" text-anchor="middle" style="stroke-width:0.12px">2h</text>
<text x="389.89" y="460.1" font-size="6.0" text-anchor="middle" style="stroke-width:0.12px">4h</text>
<text x="402.13" y="460.1" font-size="6.0" text-anchor="middle" style="stroke-width:0.12px">24h</text>
<line x1="407.85" y1="450.3" x2="407.85" y2="462.4" stroke="#111" stroke-width="1.1"/>
<line x1="420.09" y1="450.3" x2="420.09" y2="455.7" stroke="#111" stroke-width="1.1"/>
<line x1="432.33" y1="450.3" x2="432.33" y2="455.7" stroke="#111" stroke-width="1.1"/>
<text x="414.37" y="460.1" font-size="6.0" text-anchor="middle" style="stroke-width:0.12px">2h</text>
<text x="426.61" y="460.1" font-size="6.0" text-anchor="middle" style="stroke-width:0.12px">4h</text>
<text x="438.85" y="460.1" font-size="6.0" text-anchor="middle" style="stroke-width:0.12px">24h</text>
<line x1="444.57" y1="450.3" x2="444.57" y2="462.4" stroke="#111" stroke-width="1.1"/>
<line x1="456.81" y1="450.3" x2="456.81" y2="455.7" stroke="#111" stroke-width="1.1"/>
<line x1="469.04" y1="450.3" x2="469.04" y2="455.7" stroke="#111" stroke-width="1.1"/>
<text x="451.09" y="460.1" font-size="6.0" text-anchor="middle" style="stroke-width:0.12px">2h</text>
<text x="463.32" y="460.1" font-size="6.0" text-anchor="middle" style="stroke-width:0.12px">4h</text>
<text x="475.56" y="460.1" font-size="6.0" text-anchor="middle" style="stroke-width:0.12px">24h</text>
<line x1="481.28" y1="450.3" x2="481.28" y2="462.4" stroke="#111" stroke-width="1.1"/>
<line x1="493.52" y1="450.3" x2="493.52" y2="455.7" stroke="#111" stroke-width="1.1"/>
<line x1="505.76" y1="450.3" x2="505.76" y2="455.7" stroke="#111" stroke-width="1.1"/>
<text x="487.8" y="460.1" font-size="6.0" text-anchor="middle" style="stroke-width:0.12px">2h</text>
<text x="500.04" y="460.1" font-size="6.0" text-anchor="middle" style="stroke-width:0.12px">4h</text>
<text x="512.28" y="460.1" font-size="6.0" text-anchor="middle" style="stroke-width:0.12px">24h</text>
<rect x="312.26" y="449.1" width="4.2" height="1.2" fill="#111"/>
<rect x="324.5" y="393.75" width="4.2" height="56.55" fill="#111"/>
<rect x="329.15" y="431.7" width="3.3" height="18.6" fill="#fff" stroke="#111" stroke-width="0.9"/>
<rect x="348.97" y="448.3" width="4.2" height="2" fill="#111"/>
<rect x="353.62" y="449.75" width="3.3" height="0.55" fill="#fff" stroke="#111" stroke-width="0.9"/>
<rect x="361.21" y="401.25" width="4.2" height="49.05" fill="#111"/>
<rect x="365.86" y="436.7" width="3.3" height="13.6" fill="#fff" stroke="#111" stroke-width="0.9"/>
<rect x="385.69" y="446.3" width="4.2" height="4" fill="#111"/>
<rect x="390.34" y="449.25" width="3.3" height="1.05" fill="#fff" stroke="#111" stroke-width="0.9"/>
<rect x="397.93" y="378.25" width="4.2" height="72.05" fill="#111"/>
<rect x="402.58" y="423.45" width="3.3" height="26.85" fill="#fff" stroke="#111" stroke-width="0.9"/>
<rect x="422.41" y="448.3" width="4.2" height="2" fill="#111"/>
<rect x="434.65" y="395.5" width="4.2" height="54.8" fill="#111"/>
<rect x="439.3" y="434.95" width="3.3" height="15.35" fill="#fff" stroke="#111" stroke-width="0.9"/>
<rect x="459.12" y="446.9" width="4.2" height="3.4" fill="#111"/>
<rect x="471.36" y="410.5" width="4.2" height="39.8" fill="#111"/>
<rect x="476.01" y="442.45" width="3.3" height="7.85" fill="#fff" stroke="#111" stroke-width="0.9"/>
<rect x="495.84" y="447.9" width="4.2" height="2.4" fill="#111"/>
<rect x="508.08" y="394.25" width="4.2" height="56.05" fill="#111"/>
<rect x="512.73" y="440.45" width="3.3" height="9.85" fill="#fff" stroke="#111" stroke-width="0.9"/>
<text x="322.6" y="469.2" font-size="10.0" text-anchor="end" transform="rotate(-33 322.6 469.2)" class="rl">Medium</text>
<text x="357.4" y="471.2" font-size="10.0" text-anchor="end" font-style="italic" transform="rotate(-33 357.4 471.2)" class="rl">E.Coli</text>
<text x="400.6" y="470.6" font-size="10.0" text-anchor="end" transform="rotate(-33 400.6 470.6)" class="rl">CD40L</text>
<text x="433.2" y="471.6" font-size="10.0" text-anchor="end" transform="rotate(-33 433.2 471.6)" class="rl">LPS</text>
<text x="471.6" y="471" font-size="10.0" text-anchor="end" transform="rotate(-33 471.6 471)" class="rl">R-848</text>
<text x="510" y="471.6" font-size="10.0" text-anchor="end" transform="rotate(-33 510 471.6)" class="rl">Poly I:C</text>
<rect x="351.2" y="496.2" width="6.6" height="8.8" fill="#111"/>
<text x="0" y="0" font-size="10" text-anchor="start" transform="translate(363.6 504.2) scale(1 1.08)">Donor 1</text>
<rect x="420.6" y="496.9" width="5.6" height="7.8" fill="#fff" stroke="#111" stroke-width="1.1"/>
<text x="0" y="0" font-size="10" text-anchor="start" transform="translate(431.2 504.2) scale(1 1.08)">Donor 2</text>
<text x="0" y="0" font-size="10.1" text-anchor="middle" transform="translate(409 361.3) scale(1 1.08)">CD1c<tspan font-size="7" dy="-3.3">+</tspan><tspan dy="3.3"> Blood DC</tspan></text>
<text x="0" y="0" font-size="16.6" text-anchor="start" transform="translate(270.6 536.8) scale(1 1.05)">F</text>
<line x1="298" y1="561.2" x2="517.4" y2="561.2" stroke="#111" stroke-width="1.1"/>
<line x1="517.4" y1="561.2" x2="517.4" y2="640.6" stroke="#111" stroke-width="1.1"/>
<line x1="298" y1="561.2" x2="298" y2="640.6" stroke="#111" stroke-width="1.1"/>
<line x1="295.3" y1="640.6" x2="298" y2="640.6" stroke="#111" stroke-width="1.1"/>
<text x="292.8" y="643.9" font-size="9.6" text-anchor="end">0</text>
<line x1="295.3" y1="627.5" x2="298" y2="627.5" stroke="#111" stroke-width="1.1"/>
<text x="292.8" y="630.9" font-size="9.6" text-anchor="end">0.02</text>
<line x1="295.3" y1="610" x2="298" y2="610" stroke="#111" stroke-width="1.1"/>
<text x="292.8" y="614.8" font-size="9.6" text-anchor="end">0.04</text>
<line x1="295.3" y1="594.3" x2="298" y2="594.3" stroke="#111" stroke-width="1.1"/>
<text x="292.8" y="598.8" font-size="9.6" text-anchor="end">0.06</text>
<line x1="295.3" y1="578.5" x2="298" y2="578.5" stroke="#111" stroke-width="1.1"/>
<text x="292.8" y="582.8" font-size="9.6" text-anchor="end">0.08</text>
<line x1="295.3" y1="561.2" x2="298" y2="561.2" stroke="#111" stroke-width="1.1"/>
<text x="292.8" y="566.1" font-size="9.6" text-anchor="end">0.1</text>
<rect x="307.02" y="628" width="13.3" height="12.6" fill="#111"/>
<line x1="313.67" y1="628" x2="313.67" y2="620" stroke="#111" stroke-width="1.0"/>
<line x1="312.07" y1="620" x2="315.27" y2="620" stroke="#111" stroke-width="1.0"/>
<rect x="338.36" y="621.4" width="13.3" height="19.2" fill="#111"/>
<line x1="345.01" y1="621.4" x2="345.01" y2="619.2" stroke="#111" stroke-width="1.0"/>
<line x1="343.41" y1="619.2" x2="346.61" y2="619.2" stroke="#111" stroke-width="1.0"/>
<rect x="369.71" y="627.2" width="13.3" height="13.4" fill="#111"/>
<line x1="376.36" y1="627.2" x2="376.36" y2="625" stroke="#111" stroke-width="1.0"/>
<line x1="374.76" y1="625" x2="377.96" y2="625" stroke="#111" stroke-width="1.0"/>
<rect x="401.05" y="632.6" width="13.3" height="8" fill="#111"/>
<line x1="407.7" y1="632.6" x2="407.7" y2="629" stroke="#111" stroke-width="1.0"/>
<line x1="406.1" y1="629" x2="409.3" y2="629" stroke="#111" stroke-width="1.0"/>
<rect x="432.39" y="629.6" width="13.3" height="11" fill="#111"/>
<line x1="439.04" y1="629.6" x2="439.04" y2="627" stroke="#111" stroke-width="1.0"/>
<line x1="437.44" y1="627" x2="440.64" y2="627" stroke="#111" stroke-width="1.0"/>
<rect x="463.74" y="623.8" width="13.3" height="16.8" fill="#111"/>
<line x1="470.39" y1="623.8" x2="470.39" y2="619.2" stroke="#111" stroke-width="1.0"/>
<line x1="468.79" y1="619.2" x2="471.99" y2="619.2" stroke="#111" stroke-width="1.0"/>
<rect x="495.08" y="623" width="13.3" height="17.6" fill="#111"/>
<line x1="501.73" y1="623" x2="501.73" y2="617.4" stroke="#111" stroke-width="1.0"/>
<line x1="500.13" y1="617.4" x2="503.33" y2="617.4" stroke="#111" stroke-width="1.0"/>
<rect x="298.0" y="632.6" width="219.39999999999998" height="8.0" fill="#808080" fill-opacity="0.69"/>
<line x1="298" y1="633" x2="517.4" y2="633" stroke="#2e2e2e" stroke-width="1.5"/>
<line x1="298" y1="640.6" x2="517.4" y2="640.6" stroke="#111" stroke-width="1.1"/>
<text x="317" y="650.39" font-size="10.0" text-anchor="end" transform="rotate(-36 317 650.39)" class="rl">Medium</text>
<text x="352" y="649.39" font-size="10.0" text-anchor="end" transform="rotate(-36 352 649.39)" class="rl">CD40L</text>
<text x="380.8" y="650.79" font-size="10.0" text-anchor="end" transform="rotate(-36 380.8 650.79)" class="rl">LPS</text>
<text x="414" y="650.99" font-size="10.0" text-anchor="end" transform="rotate(-36 414 650.99)" class="rl">R-848</text>
<text x="445.2" y="650.79" font-size="10.0" text-anchor="end" transform="rotate(-36 445.2 650.79)" class="rl">Poly I:C</text>
<text x="475.2" y="650.79" font-size="10.0" text-anchor="end" transform="rotate(-36 475.2 650.79)" class="rl">CpG</text>
<text x="505.2" y="650.39" font-size="10.0" text-anchor="end" transform="rotate(-36 505.2 650.39)" class="rl">Pam3Cys</text>
<text x="0" y="0" font-size="10.1" text-anchor="middle" transform="translate(419.5 550.3) scale(1 1.08)">CD123<tspan font-size="7" dy="-3.3">+</tspan><tspan dy="3.3"> Plasmacytoid DC</tspan></text>
</svg></body></html>
